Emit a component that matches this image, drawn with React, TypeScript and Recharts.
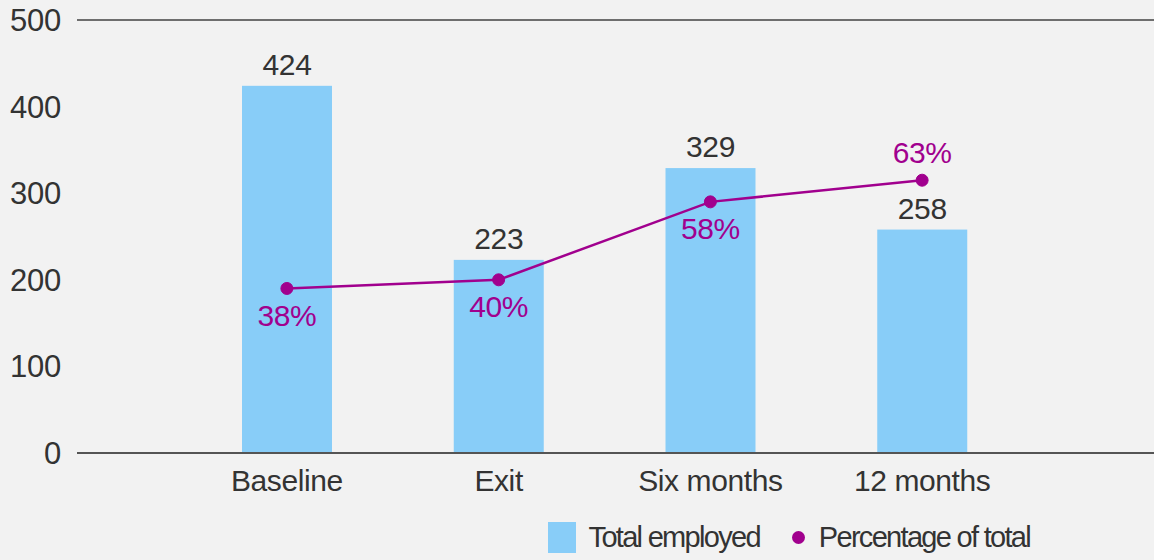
import { ComposedChart, Bar, Line, XAxis, YAxis, CartesianGrid, LabelList, Legend } from "recharts"

const categories = ["Baseline", "Exit", "Six months", "12 months"]
const totalEmployed = [424, 223, 329, 258]
const percentageOfTotal = [38, 40, 58, 63]
const yTicks = [0, 100, 200, 300, 400, 500]

const BG = "#f2f2f2"
const BLUE = "#88cdf8"
const PURPLE = "#a1008e"
const TEXT = "#333333"
const FONT = "'Liberation Sans', Arial, sans-serif"

const yMax = yTicks[yTicks.length - 1]

const data = categories.map((name, i) => ({
  name,
  employed: totalEmployed[i],
  pct: percentageOfTotal[i],
}))

// bar drawn with a thin background-coloured halo so the gridlines stop short of it
const BarShape = (props: any) => {
  const { x, y, width, height } = props
  return (
    <g>
      <rect x={x - 2} y={y} width={width + 4} height={Math.max(height - 2, 0)} fill={BG} />
      <rect x={x} y={y} width={width} height={height} fill={BLUE} />
    </g>
  )
}

// percentage label goes above the dot when the dot sits above its bar
const PctLabel = (props: any) => {
  const { x, y, index, value } = props
  const above = (percentageOfTotal[index] / 100) * yMax > totalEmployed[index]
  return (
    <text
      x={x}
      y={y + (above ? -28 : 27)}
      textAnchor="middle"
      dominantBaseline="central"
      fill={PURPLE}
      fontSize={30}
      letterSpacing={-0.4}
      fontFamily={FONT}
    >
      {value}%
    </text>
  )
}

const LegendContent = () => (
  <div
    style={{
      display: "flex",
      alignItems: "center",
      justifyContent: "flex-end",
      height: 44,
      paddingRight: 124,
      fontFamily: FONT,
      fontSize: 29,
      letterSpacing: -1.7,
      color: TEXT,
    }}
  >
    <span style={{ width: 28, height: 31, background: BLUE, marginRight: 13 }} />
    <span>Total employed</span>
    <span
      style={{ width: 13, height: 13, borderRadius: "50%", background: PURPLE, marginLeft: 32, marginRight: 14 }}
    />
    <span>Percentage of total</span>
  </div>
)

export default function App() {
  return (
    <div style={{ position: "absolute", left: 0, top: 0, width: 1154, height: 560, background: BG }}>
      <ComposedChart
        width={1154}
        height={560}
        data={data}
        margin={{ top: 20, right: 0, left: 0, bottom: 1 }}
      >
        <CartesianGrid vertical={false} stroke="#6e6e6e" strokeWidth={2} />
        <XAxis
          dataKey="name"
          padding={{ left: 104, right: 126 }}
          tickLine={false}
          axisLine={{ stroke: "#555555", strokeWidth: 2 }}
          tick={{ fill: TEXT, fontSize: 30, fontFamily: FONT, letterSpacing: -0.4 }}
          tickMargin={11}
          height={62}
        />
        <YAxis
          yAxisId="left"
          domain={[0, yMax]}
          ticks={yTicks}
          width={77}
          tickLine={false}
          axisLine={false}
          tickMargin={10}
          tick={{ fill: TEXT, fontSize: 31, fontFamily: FONT, letterSpacing: -0.2 }}
        />
        <YAxis yAxisId="pct" orientation="right" domain={[0, 100]} hide />
        <Legend verticalAlign="bottom" align="right" content={LegendContent} />
        <Bar
          yAxisId="left"
          dataKey="employed"
          name="Total employed"
          barSize={90}
          shape={BarShape}
          isAnimationActive={false}
        >
          <LabelList
            dataKey="employed"
            position="top"
            offset={11}
            fill={TEXT}
            fontSize={30}
            fontFamily={FONT}
            letterSpacing={-0.4}
          />
        </Bar>
        <Line
          yAxisId="pct"
          dataKey="pct"
          name="Percentage of total"
          stroke={PURPLE}
          strokeWidth={2.5}
          dot={{ r: 6, fill: PURPLE, stroke: PURPLE, strokeWidth: 1 }}
          activeDot={false}
          isAnimationActive={false}
        >
          <LabelList dataKey="pct" content={PctLabel} />
        </Line>
      </ComposedChart>
    </div>
  )
}
